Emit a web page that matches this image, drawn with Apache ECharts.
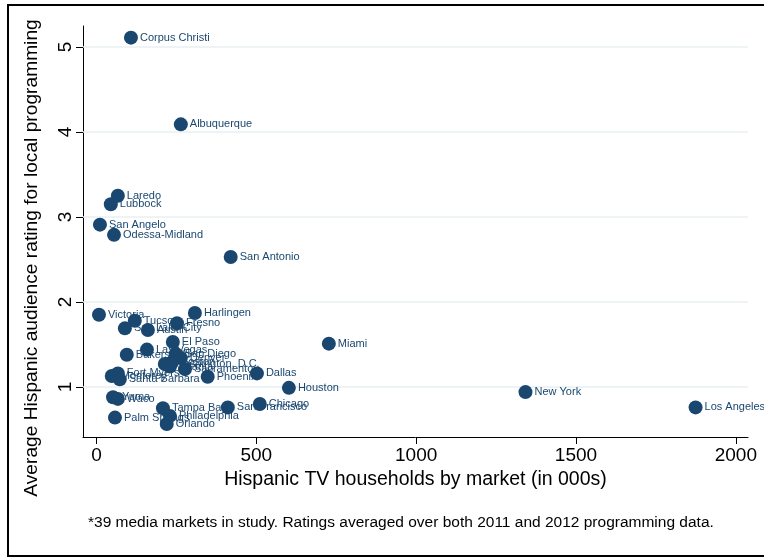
<!DOCTYPE html>
<html><head><meta charset="utf-8">
<script src="https://cdn.jsdelivr.net/npm/echarts@6/dist/echarts.min.js"></script>
<style>html,body{margin:0;padding:0;background:#fff}#c{width:764px;height:558px}</style>
</head><body><div id="c"></div>
<script>
const markets = ["Corpus Christi","Albuquerque","Laredo","Lubbock","San Angelo","Odessa-Midland","San Antonio","Victoria","Harlingen","Tucson","Fresno","Salt Lake City","Austin","El Paso","Miami","Las Vegas","Bakersfield","San Diego","Denver","Boston","Washington, D.C.","Sacramento","Atlanta","Dallas","Phoenix","Fort Myers","Monterey","Santa Barbara","Houston","New York","Yuma","Waco","Tampa Bay","San Francisco","Chicago","Los Angeles","Philadelphia","Palm Springs","Orlando"];
const households = [108,264,67,45,11,55,420,8,308,120,252,89,161,239,727,158,95,248,264,236,214,277,230,502,348,67,48,73,602,1342,52,67,208,411,511,1874,230,58,220];
const ratings = [5.11,4.09,3.25,3.15,2.91,2.79,2.53,1.85,1.87,1.78,1.75,1.69,1.67,1.53,1.51,1.44,1.38,1.39,1.34,1.29,1.27,1.21,1.24,1.16,1.12,1.16,1.13,1.09,0.99,0.94,0.88,0.86,0.75,0.76,0.80,0.76,0.66,0.64,0.565];
const xTicks = [0,500,1000,1500,2000];
const yTicks = [1,2,3,4,5];
const xTitle = "Hispanic TV households by market (in 000s)";
const yTitle = "Average Hispanic audience rating for local programming";
const note = "*39 media markets in study. Ratings averaged over both 2011 and 2012 programming data.";

const navy = '#1a476f';
const font = "'Liberation Sans', Arial, sans-serif";
const chart = echarts.init(document.getElementById('c'), null, {renderer:'canvas'});
const data = markets.map((m,i)=>({name:m, value:[households[i], ratings[i]]}));
chart.setOption({
  animation:false,
  backgroundColor:'#fff',
  textStyle:{fontFamily:font},
  grid:{left:83, right:16, top:26, bottom:121, containLabel:false},
  xAxis:{type:'value', min:-42, max:2038,
    axisLine:{show:true, onZero:false, lineStyle:{color:'#000', width:1}},
    axisTick:{show:true, length:7, lineStyle:{color:'#000'}, customValues:xTicks},
    axisLabel:{color:'#000', fontSize:19, fontFamily:font, margin:9, customValues:xTicks, formatter:v=>String(v)},
    splitLine:{show:false},
    name:xTitle, nameLocation:'middle', nameGap:31,
    nameTextStyle:{color:'#000', fontSize:19.5, fontFamily:font}
  },
  yAxis:{type:'value', min:0.412, max:5.247,
    axisLine:{show:true, onZero:false, lineStyle:{color:'#000', width:1}},
    axisTick:{show:true, length:7, lineStyle:{color:'#000'}, customValues:yTicks},
    axisLabel:{color:'#000', fontSize:19, fontFamily:font, rotate:90, margin:8, customValues:yTicks},
    splitLine:{show:false}
  },
  series:[{
    type:'scatter', data:[], z:1, silent:true,
    markLine:{silent:true, symbol:'none', label:{show:false}, z:1,
      lineStyle:{color:'#e8eff2', width:1.5, type:'solid'},
      data: yTicks.map(v=>({yAxis:v}))}
  },{
    type:'scatter', data:data, symbolSize:14, z:3,
    itemStyle:{color:navy, opacity:1},
    label:{show:true, position:'right', distance:2, formatter:p=>p.name, color:navy, fontSize:11, fontFamily:font}
  }],
  graphic:[
    {type:'rect', shape:{x:8, y:5, width:770, height:551}, style:{fill:'none', stroke:'#000', lineWidth:2}, z:100},
    {type:'text', x:32, y:258, rotation:Math.PI/2,
      style:{text:yTitle, fill:'#000', fontSize:19.2, fontFamily:font, align:'center', verticalAlign:'middle'}},
    {type:'text', left:88, top:515, style:{text:note, fill:'#000', fontSize:15.5, fontFamily:font}}
  ]
});
</script></body></html>
